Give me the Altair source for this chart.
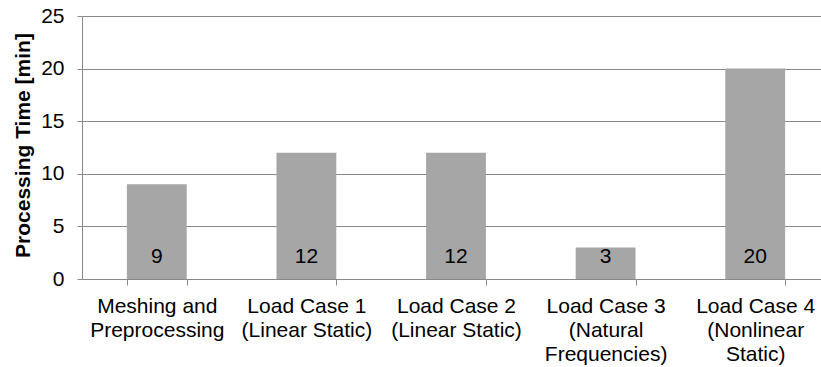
import altair as alt
import pandas as pd

categories = [
    "Meshing and|Preprocessing",
    "Load Case 1|(Linear Static)",
    "Load Case 2|(Linear Static)",
    "Load Case 3|(Natural|Frequencies)",
    "Load Case 4|(Nonlinear|Static)",
]
times = [9, 12, 12, 3, 20]
y_ticks = [0, 5, 10, 15, 20, 25]

df = pd.DataFrame({"task": categories, "time": times})

FONT = "Liberation Sans"
GRAY = "#898989"

x_enc = alt.X(
    "task:N",
    sort=None,
    title=None,
    scale=alt.Scale(range=[0, 748], paddingInner=0.6, paddingOuter=0.3),
    axis=alt.Axis(
        labelAngle=0,
        labelExpr="split(datum.label, '|')",
        labelFontSize=21,
        labelLineHeight=24.3,
        labelPadding=10,
        labelColor="#000000",
        labelFont=FONT,
        tickBand="extent",
        tickSize=6,
        tickColor=GRAY,
        domainColor=GRAY,
        labelBaseline="top",
        labelOverlap=False,
        labelBound=False,
        grid=False,
    ),
)

y_scale = alt.Scale(domain=[0, 25], nice=False)

bars = alt.Chart(df).mark_bar(color="#a6a6a6").encode(
    x=x_enc,
    y=alt.Y(
        "time:Q",
        scale=y_scale,
        axis=alt.Axis(
            values=y_ticks,
            title="Processing Time [min]",
            titleFont=FONT,
            titleFontSize=21,
            titleFontWeight="bold",
            titleColor="#000000",
            titleAngle=-90,
            titleBaseline="alphabetic",
            titleAlign="center",
            titleX=-53,
            titleY=129,
            labelFontSize=21,
            labelFont=FONT,
            labelColor="#000000",
            labelPadding=13,
            tickSize=5,
            tickColor=GRAY,
            domainColor=GRAY,
            gridColor=GRAY,
            gridWidth=1,
            grid=True,
        ),
    ),
)

labels = alt.Chart(df).mark_text(
    font=FONT, fontSize=21, color="#000000", baseline="alphabetic", dy=-16
).encode(
    x=alt.X("task:N", sort=None),
    y=alt.datum(0),
    text=alt.Text("time:Q"),
)

chart = (
    alt.layer(bars, labels)
    .properties(
        width=739,
        height=263,
        autosize=alt.AutoSizeParams(type="none"),
        padding={"left": 82, "top": 16, "right": 0, "bottom": 88},
    )
    .configure_view(stroke=None)
    .configure(font=FONT)
)

chart.save("out.html", embed_options={"renderer": "svg", "actions": False})
